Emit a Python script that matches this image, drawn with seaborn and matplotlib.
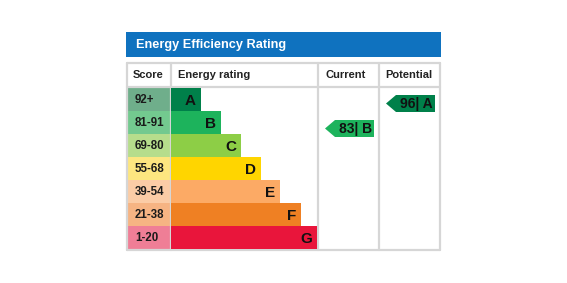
import matplotlib
matplotlib.use('Agg')
from matplotlib import pyplot as plt
from matplotlib.patches import Rectangle, Polygon
import seaborn as sns
import pandas as pd

bands = ['A', 'B', 'C', 'D', 'E', 'F', 'G']
scores = ['92+', '81-91', '69-80', '55-68', '39-54', '21-38', '1-20']
bar_len = [30, 50, 70, 90, 109, 130, 146]
bar_colors = ['#00804a', '#1db35c', '#8dce46', '#ffd500', '#fcaa65', '#ef8023', '#e9153b']
score_colors = ['#6fae8b', '#73c98f', '#b6dd8c', '#fde680', '#fbcca6', '#f6b483', '#ef7e96']
headers = ['Score', 'Energy rating', 'Current', 'Potential']
current = (83, 'B')
potential = (96, 'A')

W, H = 567, 283
sns.set_theme(style='white')
plt.rcParams['font.family'] = ['Liberation Sans', 'DejaVu Sans']

fig = plt.figure(figsize=(W / 100, H / 100), dpi=100)
ax = fig.add_axes([0, 0, 1, 1])
ax.set_xlim(0, W)
ax.set_ylim(H, 0)
ax.axis('off')

# layout in pixels
x0, x_score, x_cur, x_pot, x1 = 127, 171, 318, 379, 440
y_title0, y_title1 = 32, 57
y_head0, y_head1 = 63, 87
row_h = 23
y_rows = y_head1 + 1
grid = '#d6d6d6'

# title bar
ax.add_patch(Rectangle((126, y_title0), 315, y_title1 - y_title0, color='#0f72bf', lw=0))
ax.text(136, (y_title0 + y_title1) / 2 + 0.5, 'Energy Efficiency Rating', color='white',
        fontsize=9.2, fontweight='bold', va='center', ha='left')

# score cells
for i, (s, c) in enumerate(zip(scores, score_colors)):
    y = y_rows + i * row_h
    ax.add_patch(Rectangle((x0, y), x_score - x0, row_h, color=c, lw=0))
    ax.text(135, y + row_h / 2 + 0.5, s, fontsize=8.3, fontweight='bold', color='#1a1a1a',
            va='center', ha='left')

# rating bars via seaborn in their own axes
bar_ax = fig.add_axes([x_score / W, 1 - (y_rows + 7 * row_h) / H,
                       (x_cur - 1 - x_score) / W, 7 * row_h / H])
df = pd.DataFrame({'band': bands, 'len': bar_len})
sns.barplot(data=df, x='len', y='band', hue='band', palette=bar_colors, orient='h',
            width=1.0, ax=bar_ax, legend=False, linewidth=0, saturation=1)
bar_ax.set_xlim(0, x_cur - 1 - x_score)
bar_ax.set_ylim(6.5, -0.5)
bar_ax.axis('off')
for i, (b, L) in enumerate(zip(bands, bar_len)):
    bar_ax.text(L - 5, i + 0.05, b, fontsize=11, fontweight='bold', color='#111111',
                ha='right', va='center')

# grid lines
lw = 1.6
for x in [x0, x_score, x_cur, x_pot, x1]:
    ax.plot([x, x], [y_head0, y_rows + 7 * row_h + 1], color=grid, lw=lw, zorder=3)
ax.plot([x0, x1], [y_head0, y_head0], color=grid, lw=lw, zorder=3)
ax.plot([x0, x1], [y_head1, y_head1], color=grid, lw=lw, zorder=3)
ax.plot([x0, x1], [y_rows + 7 * row_h + 1] * 2, color=grid, lw=lw, zorder=3)

# headers
for x, h in zip([133, 178, 325, 385], headers):
    ax.text(x, (y_head0 + y_head1) / 2 + 0.5, h, fontsize=8, fontweight='bold',
            color='#222222', va='center', ha='left')


def arrow(xl, xr, val, band, dy):
    i = bands.index(band)
    yc = y_rows + i * row_h + row_h / 2 + dy
    hh = 8.5
    tip = 10
    pts = [(xl, yc), (xl + tip, yc - hh), (xr, yc - hh), (xr, yc + hh), (xl + tip, yc + hh)]
    ax.add_patch(Polygon(pts, closed=True, color=bar_colors[i], lw=0, zorder=4))
    ax.text((xl + tip + xr) / 2 + 1, yc + 0.5, f'{val}| {band}', fontsize=10,
            fontweight='bold', color='#111111', ha='center', va='center', zorder=5)


arrow(325, 374, *current, 6)
arrow(386, 435, *potential, 4)

fig.savefig('out.png', dpi=100)
